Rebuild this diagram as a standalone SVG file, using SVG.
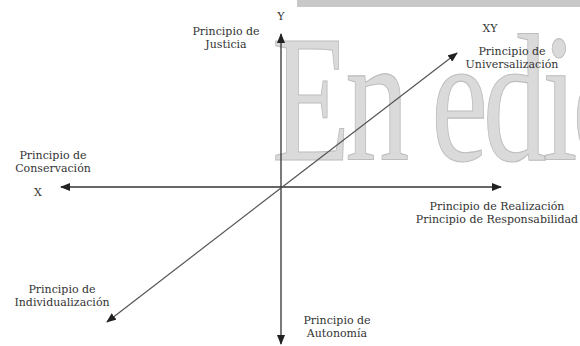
<svg xmlns="http://www.w3.org/2000/svg" width="580" height="346" viewBox="0 0 580 346">
<style>
.lbl{font-family:"DejaVu Serif","Liberation Serif",serif;font-size:11px;fill:#333;text-anchor:middle}
.ax{stroke:#333;stroke-width:1.3;fill:none}
.diag{stroke:#555;stroke-width:1.2;fill:none}
.wm{font-family:"Liberation Serif",serif;font-size:128px;letter-spacing:-5px;fill:#dadada;stroke:#bdbdbd;stroke-width:0.8}
</style>
<defs>
<marker id="ah" viewBox="0 0 10 8" refX="9" refY="4" markerWidth="10" markerHeight="8" markerUnits="userSpaceOnUse" orient="auto">
<path d="M0,0 L10,4 L0,8 Z" fill="#222"/>
</marker>
</defs>
<rect width="580" height="346" fill="#fff"/>
<rect x="297" y="0" width="283" height="7" fill="#c8c8c8"/>
<text class="wm" transform="translate(272,160) scale(1,1.42)" x="0" y="0">En edición</text>
<g id="connectors">
<line class="ax" x1="281" y1="187" x2="281" y2="34" marker-end="url(#ah)"/>
<line class="ax" x1="281" y1="187" x2="281" y2="344" marker-end="url(#ah)"/>
<line class="ax" x1="281" y1="187" x2="61" y2="187" marker-end="url(#ah)"/>
<line class="ax" x1="281" y1="187" x2="501" y2="187" marker-end="url(#ah)"/>
<line class="diag" x1="281" y1="188" x2="457" y2="53" marker-end="url(#ah)"/>
<line class="diag" x1="281" y1="188" x2="107" y2="322" marker-end="url(#ah)"/>
</g>
<g id="node-y"><text class="lbl" x="281" y="20">Y</text></g>
<g id="node-justicia"><text class="lbl" x="226" y="35">Principio de</text><text class="lbl" x="226" y="48">Justicia</text></g>
<g id="node-xy"><text class="lbl" x="490" y="32">XY</text></g>
<g id="node-universalizacion"><text class="lbl" x="512" y="55">Principio de</text><text class="lbl" x="512" y="68">Universalización</text></g>
<g id="node-conservacion"><text class="lbl" x="53" y="159">Principio de</text><text class="lbl" x="53" y="172">Conservación</text></g>
<g id="node-x"><text class="lbl" x="38" y="196">X</text></g>
<g id="node-realizacion"><text class="lbl" x="497" y="210">Principio de Realización</text><text class="lbl" x="497" y="223">Principio de Responsabilidad</text></g>
<g id="node-individualizacion"><text class="lbl" x="62" y="293">Principio de</text><text class="lbl" x="62" y="306">Individualización</text></g>
<g id="node-autonomia"><text class="lbl" x="337" y="324">Principio de</text><text class="lbl" x="337" y="337">Autonomía</text></g>
</svg>
